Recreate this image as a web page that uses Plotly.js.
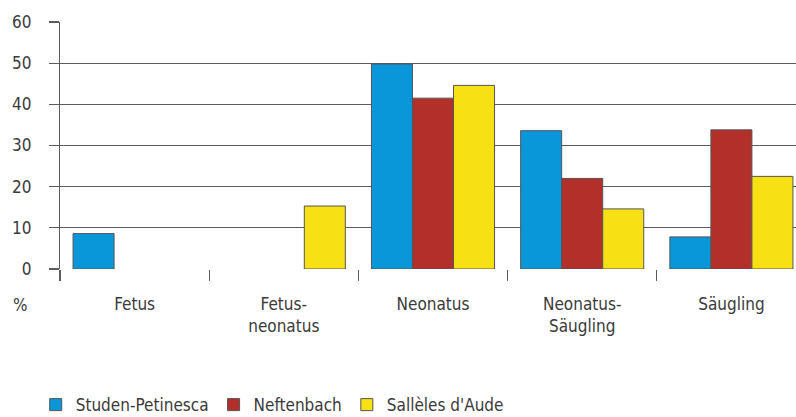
<!DOCTYPE html>
<html>
<head>
<meta charset="utf-8">
<script src="https://cdn.plot.ly/plotly-3.0.1.min.js"></script>
<style>html,body{margin:0;padding:0;background:#fff;}#chart{width:796px;height:417px;}</style>
</head>
<body>
<div id="chart"></div>
<script>
const categories = ["Fetus", "Fetus-<br>neonatus", "Neonatus", "Neonatus-<br>Säugling", "Säugling"];
const seriesNames = ["Studen-Petinesca", "Neftenbach", "Sallèles d'Aude"];
const studen = [8.6, null, 49.8, 33.6, 7.8];
const neftenbach = [null, null, 41.5, 22.0, 33.8];
const salleles = [null, 15.3, 44.6, 14.6, 22.5];
const yTicks = [0, 10, 20, 30, 40, 50, 60];
const colors = ["#0a97d9", "#b3302a", "#f7e013"];

const FONT = "'Liberation Sans Narrow', 'DejaVu Sans Condensed', sans-serif";
const TXT = "#3a3a3a";
const GRID = "#5c5c5c";

const values = [studen, neftenbach, salleles];
const traces = values.map((v, i) => ({
  type: "bar",
  name: seriesNames[i],
  x: categories,
  y: v,
  marker: {color: colors[i], line: {color: "#555", width: 1}},
  hoverinfo: "none"
}));

const layout = {
  width: 796, height: 417,
  margin: {l: 60, r: 0, t: 22, b: 148, autoexpand: false},
  paper_bgcolor: "#fff", plot_bgcolor: "#fff",
  font: {family: FONT, size: 17, color: TXT},
  barmode: "group",
  bargap: 0.175,
  bargroupgap: 0,
  showlegend: true,
  legend: {
    orientation: "h", x: -0.033, xanchor: "left", y: -0.478, yanchor: "top",
    font: {family: FONT, size: 17, color: TXT},
    bgcolor: "rgba(0,0,0,0)", traceorder: "normal"
  },
  xaxis: {
    type: "category",
    range: [-0.5, 4.433],
    tickson: "boundaries",
    ticks: "outside", ticklen: 11, tickcolor: GRID, tickwidth: 1.2,
    showline: false,
    showgrid: false,
    zeroline: false,
    ticklabelstandoff: 23,
    tickfont: {family: FONT, size: 17, color: TXT},
    fixedrange: true
  },
  yaxis: {
    range: [0, 60],
    tickvals: yTicks,
    ticktext: yTicks.map(String),
    ticks: "outside", ticklen: 10, tickcolor: GRID, tickwidth: 1.2,
    showgrid: true, gridcolor: GRID, gridwidth: 1.2,
    showline: true, linecolor: GRID, linewidth: 1.2,
    zeroline: false,
    ticklabelstandoff: 14,
    tickfont: {family: FONT, size: 17, color: TXT},
    fixedrange: true
  },
  annotations: [{
    text: "%", xref: "paper", yref: "paper",
    x: (20 - 60) / 736, y: -(305 - 269) / 247,
    xanchor: "center", yanchor: "middle", showarrow: false,
    font: {family: FONT, size: 17, color: TXT}
  }]
};

Plotly.newPlot("chart", traces, layout, {displayModeBar: false, staticPlot: true});
</script>
</body>
</html>
